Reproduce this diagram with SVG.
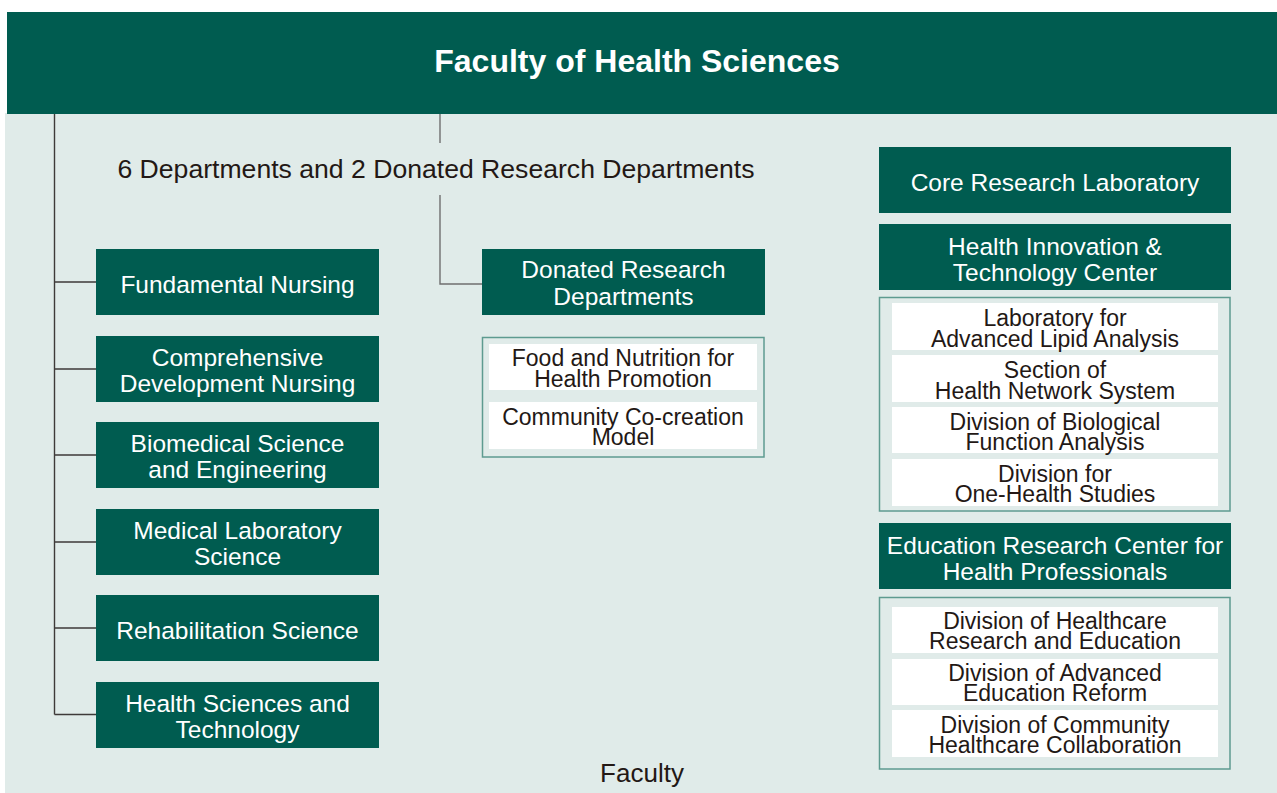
<svg xmlns="http://www.w3.org/2000/svg" width="1277" height="793" viewBox="0 0 1277 793">
<style>
  text { font-family: "Liberation Sans", Arial, Helvetica, sans-serif; text-anchor: middle; }
  .g { fill: #005c50; }
  .gt { fill: #ffffff; font-size: 24.5px; }
  .wt { fill: #231815; font-size: 23px; }
  .frame { fill: none; stroke: #5e9b90; stroke-width: 1.5; }
  .wb { fill: #ffffff; }
  .conn { fill: none; stroke: #3e3a39; stroke-width: 1.4; }
  .conn2 { fill: none; stroke: #6f6f6f; stroke-width: 1.4; }
</style>
<rect x="0" y="0" width="1277" height="793" fill="#ffffff"/>
<rect x="5" y="113" width="1272" height="680" fill="#e0ebe9"/>

<g id="header">
  <rect x="7" y="12" width="1270" height="102" class="g"/>
  <text x="637" y="72" style="fill:#fff;font-size:32px;font-weight:bold">Faculty of Health Sciences</text>
</g>

<g id="connectors">
  <path class="conn" d="M54.5 114 V714.5 M54.5 282 H96 M54.5 369 H96 M54.5 455 H96 M54.5 542 H96 M54.5 628 H96 M54.5 714.5 H96"/>
  <path class="conn2" d="M440 114 V143 M440 195 V284 H482"/>
</g>

<g id="subtitle">
  <text x="436" y="178" style="fill:#231815;font-size:26.6px">6 Departments and 2 Donated Research Departments</text>
</g>

<g id="fundamental-nursing">
  <rect x="96" y="249" width="283" height="66" class="g"/>
  <text x="237.5" y="292.5" class="gt">Fundamental Nursing</text>
</g>
<g id="comprehensive">
  <rect x="96" y="336" width="283" height="66" class="g"/>
  <text x="237.5" y="365.5" class="gt">Comprehensive</text>
  <text x="237.5" y="391.5" class="gt">Development Nursing</text>
</g>
<g id="biomedical">
  <rect x="96" y="422" width="283" height="66" class="g"/>
  <text x="237.5" y="451.5" class="gt">Biomedical Science</text>
  <text x="237.5" y="477.5" class="gt">and Engineering</text>
</g>
<g id="medical-lab">
  <rect x="96" y="509" width="283" height="66" class="g"/>
  <text x="237.5" y="538.5" class="gt">Medical Laboratory</text>
  <text x="237.5" y="564.5" class="gt">Science</text>
</g>
<g id="rehabilitation">
  <rect x="96" y="595" width="283" height="66" class="g"/>
  <text x="237.5" y="638.5" class="gt">Rehabilitation Science</text>
</g>
<g id="health-sciences-tech">
  <rect x="96" y="682" width="283" height="66" class="g"/>
  <text x="237.5" y="711.5" class="gt">Health Sciences and</text>
  <text x="237.5" y="737.5" class="gt">Technology</text>
</g>

<g id="donated">
  <rect x="482" y="249" width="283" height="66" class="g"/>
  <text x="623.5" y="278" class="gt">Donated Research</text>
  <text x="623.5" y="304.5" class="gt">Departments</text>
</g>
<g id="donated-list">
  <rect x="482.5" y="337.5" width="281.5" height="119.5" class="frame"/>
  <rect x="489" y="344" width="268" height="46" class="wb"/>
  <text x="623" y="366" class="wt">Food and Nutrition for</text>
  <text x="623" y="386.5" class="wt">Health Promotion</text>
  <rect x="489" y="402" width="268" height="47" class="wb"/>
  <text x="623" y="424.5" class="wt">Community Co-creation</text>
  <text x="623" y="445" class="wt">Model</text>
</g>

<g id="core-research">
  <rect x="879" y="147" width="352" height="66" class="g"/>
  <text x="1055" y="190.5" class="gt">Core Research Laboratory</text>
</g>
<g id="health-innovation">
  <rect x="879" y="224" width="352" height="66" class="g"/>
  <text x="1055" y="255" class="gt">Health Innovation &amp;</text>
  <text x="1055" y="281" class="gt">Technology Center</text>
</g>
<g id="health-innovation-list">
  <rect x="879.5" y="297.5" width="350.5" height="213.5" class="frame"/>
  <rect x="892" y="303" width="326" height="47" class="wb"/>
  <text x="1055" y="326" class="wt">Laboratory for</text>
  <text x="1055" y="346.5" class="wt">Advanced Lipid Analysis</text>
  <rect x="892" y="355" width="326" height="47" class="wb"/>
  <text x="1055" y="378" class="wt">Section of</text>
  <text x="1055" y="398.5" class="wt">Health Network System</text>
  <rect x="892" y="407" width="326" height="46" class="wb"/>
  <text x="1055" y="430" class="wt">Division of Biological</text>
  <text x="1055" y="450" class="wt">Function Analysis</text>
  <rect x="892" y="459" width="326" height="47" class="wb"/>
  <text x="1055" y="481.5" class="wt">Division for</text>
  <text x="1055" y="501.5" class="wt">One-Health Studies</text>
</g>
<g id="education-center">
  <rect x="879" y="523" width="352" height="66" class="g"/>
  <text x="1055" y="553.5" class="gt">Education Research Center for</text>
  <text x="1055" y="579.5" class="gt">Health Professionals</text>
</g>
<g id="education-list">
  <rect x="879.5" y="597.5" width="350.5" height="171.5" class="frame"/>
  <rect x="892" y="607" width="326" height="46" class="wb"/>
  <text x="1055" y="628.5" class="wt">Division of Healthcare</text>
  <text x="1055" y="648.5" class="wt">Research and Education</text>
  <rect x="892" y="659" width="326" height="46" class="wb"/>
  <text x="1055" y="680.5" class="wt">Division of Advanced</text>
  <text x="1055" y="701" class="wt">Education Reform</text>
  <rect x="892" y="710" width="326" height="47" class="wb"/>
  <text x="1055" y="732.5" class="wt">Division of Community</text>
  <text x="1055" y="753" class="wt">Healthcare Collaboration</text>
</g>

<g id="footer">
  <text x="642" y="782" style="fill:#231815;font-size:26px">Faculty</text>
</g>
</svg>
